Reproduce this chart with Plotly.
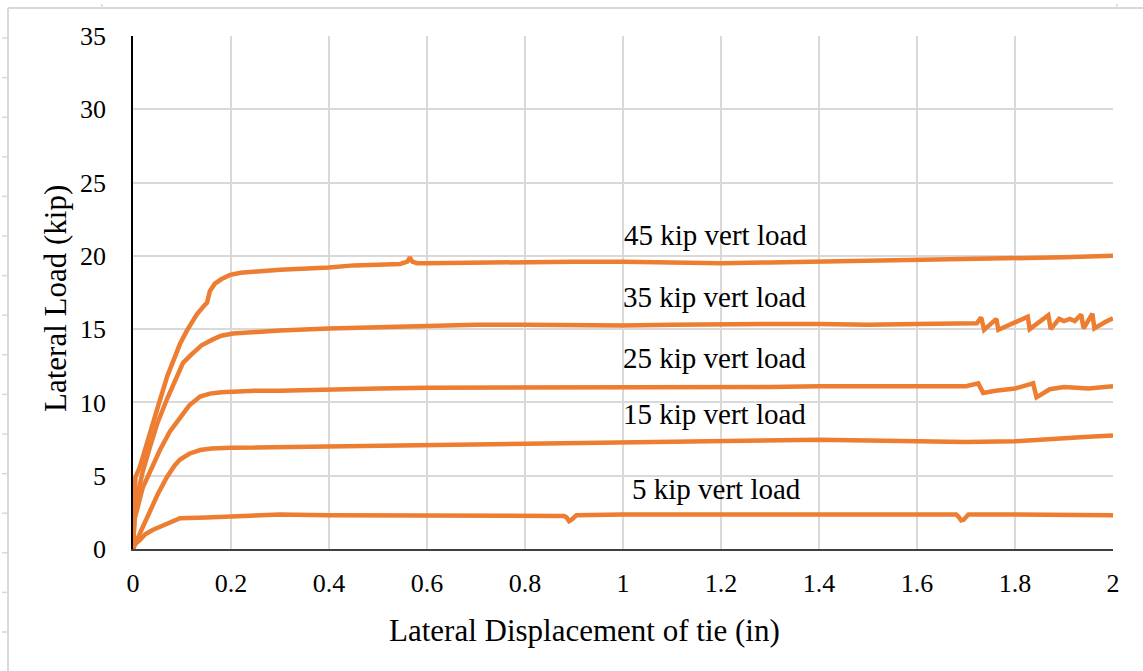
import plotly.graph_objects as go

# ---- data ----
x45 = [0, 0.002, 0.005, 0.014, 0.03, 0.049, 0.07, 0.096, 0.11, 0.13, 0.145, 0.151, 0.157, 0.167, 0.18, 0.198,
       0.22, 0.3, 0.4, 0.45, 0.5, 0.545, 0.56, 0.565, 0.57, 0.58, 0.6, 0.7, 0.8, 0.9, 1.0, 1.1, 1.2, 1.3, 1.4,
       1.5, 1.6, 1.7, 1.8, 1.9, 2.0]
y45 = [0, 3.0, 4.9, 5.6, 7.5, 9.5, 11.8, 14.0, 14.9, 16.0, 16.6, 16.8, 17.6, 18.1, 18.4, 18.7,
       18.85, 19.05, 19.2, 19.35, 19.4, 19.45, 19.6, 19.9, 19.6, 19.5, 19.5, 19.55, 19.6, 19.6, 19.6, 19.55, 19.5,
       19.55, 19.6, 19.7, 19.75, 19.8, 19.85, 19.9, 20.0]

x35 = [0, 0.003, 0.01, 0.02, 0.035, 0.05, 0.069, 0.085, 0.102, 0.12, 0.14, 0.163, 0.18, 0.204, 0.25, 0.3,
       0.4, 0.5, 0.6, 0.7, 0.8, 0.9, 1.0, 1.1, 1.2, 1.3, 1.4, 1.5, 1.6, 1.7,
       1.722, 1.731, 1.737, 1.762, 1.766, 1.826, 1.830, 1.868, 1.873, 1.890, 1.900, 1.912, 1.922, 1.935,
       1.940, 1.958, 1.962, 1.985, 2.0]
y35 = [0, 2.0, 3.8, 5.3, 7.0, 8.6, 10.2, 11.5, 12.7, 13.3, 13.9, 14.3, 14.55, 14.7, 14.8, 14.9,
       15.05, 15.15, 15.2, 15.3, 15.3, 15.25, 15.25, 15.3, 15.35, 15.35, 15.35, 15.3, 15.35, 15.4,
       15.4, 15.8, 14.95, 15.7, 14.95, 15.85, 15.0, 15.95, 15.0, 15.7, 15.55, 15.7, 15.55, 16.0,
       15.05, 16.05, 15.05, 15.5, 15.75]

x25 = [0, 0.003, 0.02, 0.04, 0.055, 0.075, 0.096, 0.115, 0.137, 0.157, 0.18, 0.2, 0.25, 0.3, 0.4, 0.5,
       0.6, 0.7, 0.8, 0.9, 1.0, 1.1, 1.2, 1.3, 1.4, 1.5, 1.6, 1.7, 1.725, 1.735, 1.76, 1.8, 1.837,
       1.844, 1.871, 1.9, 1.95, 2.0]
y25 = [0, 2.0, 4.2, 5.7, 6.75, 8.0, 9.0, 9.8, 10.4, 10.6, 10.7, 10.75, 10.8, 10.8, 10.9, 10.95,
       11.0, 11.0, 11.0, 11.0, 11.0, 11.05, 11.0, 11.05, 11.1, 11.1, 11.05, 11.1, 11.3, 10.65, 10.8, 10.95,
       11.3, 10.35, 10.9, 11.05, 10.95, 11.1]

x15 = [0, 0.003, 0.008, 0.02, 0.035, 0.05, 0.069, 0.085, 0.096, 0.115, 0.137, 0.16, 0.2, 0.3, 0.4, 0.5,
       0.6, 0.7, 0.8, 0.9, 1.0, 1.1, 1.2, 1.3, 1.4, 1.5, 1.6, 1.7, 1.8, 1.9, 1.95, 2.0]
y15 = [0, 0.3, 0.6, 1.5, 2.6, 3.7, 4.9, 5.7, 6.1, 6.5, 6.75, 6.85, 6.9, 6.95, 7.0, 7.05,
       7.1, 7.15, 7.2, 7.25, 7.3, 7.35, 7.4, 7.4, 7.45, 7.4, 7.35, 7.3, 7.35, 7.5, 7.65, 7.75]

x5 = [0, 0.003, 0.014, 0.025, 0.04, 0.06, 0.08, 0.096, 0.15, 0.2, 0.25, 0.3, 0.4, 0.5, 0.6, 0.7, 0.8,
      0.88, 0.885, 0.89, 0.895, 0.905, 1.0, 1.1, 1.2, 1.3, 1.4, 1.5, 1.6, 1.68, 1.685, 1.69, 1.695,
      1.705, 1.8, 1.9, 2.0]
y5 = [0, 0.3, 0.6, 1.0, 1.3, 1.6, 1.9, 2.1, 2.15, 2.2, 2.25, 2.35, 2.3, 2.3, 2.3, 2.25, 2.25,
      2.25, 2.15, 1.9, 2.0, 2.3, 2.35, 2.35, 2.35, 2.35, 2.3, 2.3, 2.35, 2.35, 2.2, 1.95, 2.0,
      2.35, 2.35, 2.35, 2.3]

series = [(x5, y5), (x15, y15), (x25, y25), (x35, y35), (x45, y45)]

labels = ["45 kip vert load", "35 kip vert load", "25 kip vert load", "15 kip vert load", "5 kip vert load"]
label_x = [1.188, 1.186, 1.186, 1.186, 1.19]
label_y = [21.42, 17.19, 13.03, 9.21, 4.09]

x_ticks = [0, 0.2, 0.4, 0.6, 0.8, 1, 1.2, 1.4, 1.6, 1.8, 2]
x_ticktext = ["0", "0.2", "0.4", "0.6", "0.8", "1", "1.2", "1.4", "1.6", "1.8", "2"]
y_ticks = [0, 5, 10, 15, 20, 25, 30, 35]

ORANGE = "#ED7D31"
FONT = "Liberation Serif"

fig = go.Figure()
for xs, ys in series:
    fig.add_trace(go.Scatter(x=xs, y=ys, mode="lines",
                             line=dict(color=ORANGE, width=4.5), showlegend=False, hoverinfo="skip"))

for t, lx, ly in zip(labels, label_x, label_y):
    fig.add_annotation(x=lx, y=ly, text=t, showarrow=False, xref="x", yref="y",
                       xanchor="center", yanchor="middle",
                       font=dict(family=FONT, size=29, color="black"))

def px(xp):
    return (xp - 133) / 980
def py(yp):
    return (549 - yp) / 513

# axis titles
fig.add_annotation(x=px(584), y=py(630), xref="paper", yref="paper",
                   xanchor="center", yanchor="middle",
                   text="Lateral Displacement of tie (in)", showarrow=False,
                   font=dict(family=FONT, size=31, color="black"))
fig.add_annotation(x=px(55), y=py(299), xref="paper", yref="paper",
                   xanchor="center", yanchor="middle",
                   text="Lateral Load (kip)", showarrow=False, textangle=-90,
                   font=dict(family=FONT, size=31, color="black"))

# screenshot frame decorations
GREY = "#d9d9d9"
fig.add_shape(type="line", xref="paper", yref="paper", x0=px(8), x1=px(1143), y0=py(8), y1=py(8),
              line=dict(color=GREY, width=2))
fig.add_shape(type="line", xref="paper", yref="paper", x0=px(8), x1=px(8), y0=py(8), y1=py(671),
              line=dict(color=GREY, width=2))
for k in range(16):
    yy = 38 + 39.6 * k
    fig.add_shape(type="line", xref="paper", yref="paper", x0=px(2), x1=px(8), y0=py(yy), y1=py(yy),
                  line=dict(color=GREY, width=1.5))
for xx in (102, 1117):
    fig.add_shape(type="line", xref="paper", yref="paper", x0=px(xx), x1=px(xx), y0=py(4), y1=py(8),
                  line=dict(color=GREY, width=1.5))

fig.update_layout(
    width=1143, height=671,
    margin=dict(l=133, r=30, t=36, b=122),
    paper_bgcolor="white", plot_bgcolor="white",
    font=dict(family=FONT, size=26, color="black"),
    xaxis=dict(range=[0, 2], tickvals=x_ticks, ticktext=x_ticktext, showgrid=True,
               gridcolor=GREY, gridwidth=1.5, zeroline=False, showline=True,
               linecolor="#404040", linewidth=2, ticks="", ticklabelstandoff=10,
               tickfont=dict(family=FONT, size=26, color="black")),
    yaxis=dict(range=[0, 35], tickvals=y_ticks, showgrid=True, gridcolor=GREY, gridwidth=1.5,
               zeroline=False, showline=True, linecolor="#000000", linewidth=1.5, ticks="",
               ticklabelstandoff=20, tickfont=dict(family=FONT, size=26, color="black")),
)

fig.write_html("out.html")
